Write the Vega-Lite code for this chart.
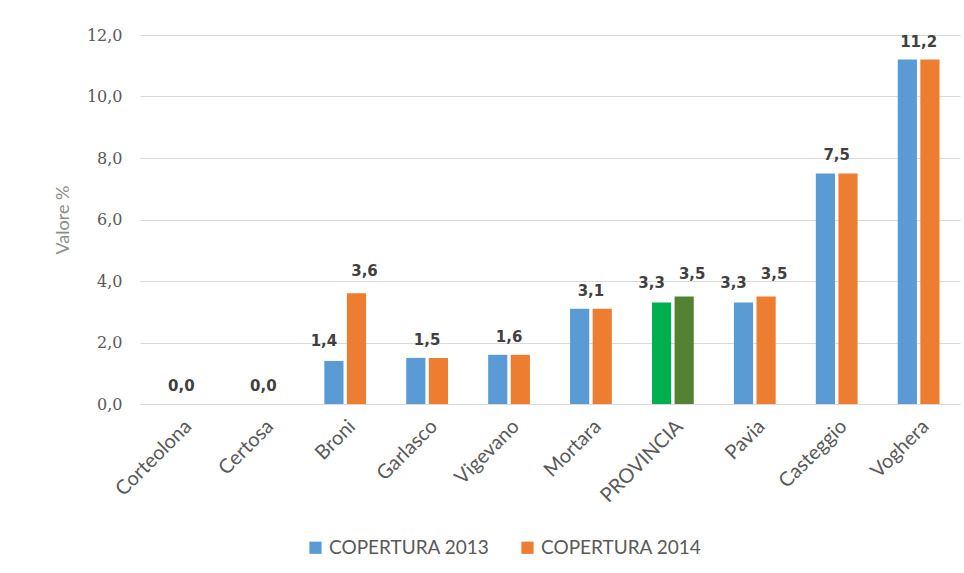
{
  "$schema": "https://vega.github.io/schema/vega-lite/v6.json",
  "width": 820,
  "height": 369,
  "autosize": "none",
  "padding": {"left": 140, "top": 35, "right": 4, "bottom": 169},
  "background": "white",
  "config": {"view": {"stroke": null}, "font": "Lato"},
  "data": {
    "values": [
      {"Comune": "Corteolona", "serie": "COPERTURA 2013", "valore": 0.0},
      {"Comune": "Corteolona", "serie": "COPERTURA 2014", "valore": 0.0},
      {"Comune": "Certosa", "serie": "COPERTURA 2013", "valore": 0.0},
      {"Comune": "Certosa", "serie": "COPERTURA 2014", "valore": 0.0},
      {"Comune": "Broni", "serie": "COPERTURA 2013", "valore": 1.4},
      {"Comune": "Broni", "serie": "COPERTURA 2014", "valore": 3.6},
      {"Comune": "Garlasco", "serie": "COPERTURA 2013", "valore": 1.5},
      {"Comune": "Garlasco", "serie": "COPERTURA 2014", "valore": 1.5},
      {"Comune": "Vigevano", "serie": "COPERTURA 2013", "valore": 1.6},
      {"Comune": "Vigevano", "serie": "COPERTURA 2014", "valore": 1.6},
      {"Comune": "Mortara", "serie": "COPERTURA 2013", "valore": 3.1},
      {"Comune": "Mortara", "serie": "COPERTURA 2014", "valore": 3.1},
      {"Comune": "PROVINCIA", "serie": "COPERTURA 2013", "valore": 3.3},
      {"Comune": "PROVINCIA", "serie": "COPERTURA 2014", "valore": 3.5},
      {"Comune": "Pavia", "serie": "COPERTURA 2013", "valore": 3.3},
      {"Comune": "Pavia", "serie": "COPERTURA 2014", "valore": 3.5},
      {"Comune": "Casteggio", "serie": "COPERTURA 2013", "valore": 7.5},
      {"Comune": "Casteggio", "serie": "COPERTURA 2014", "valore": 7.5},
      {"Comune": "Voghera", "serie": "COPERTURA 2013", "valore": 11.2},
      {"Comune": "Voghera", "serie": "COPERTURA 2014", "valore": 11.2}
    ]
  },
  "encoding": {
    "x": {
      "field": "Comune",
      "type": "nominal",
      "sort": null,
      "scale": {"paddingInner": 0.49, "paddingOuter": 0.25},
      "axis": {
        "title": null,
        "labelAngle": -45,
        "labelFontSize": 20,
        "labelColor": "#595959",
        "labelPadding": 12,
        "ticks": false,
        "domain": true,
        "domainColor": "#d9d9d9",
        "grid": false
      }
    },
    "y": {
      "field": "valore",
      "type": "quantitative",
      "scale": {"domain": [0, 12], "nice": false},
      "axis": {
        "title": "Valore %",
        "titleFont": "Lato",
        "titleFontSize": 18,
        "titleFontWeight": "normal",
        "titleColor": "#8c8c8c",
        "titlePadding": 14,
        "values": [0, 2, 4, 6, 8, 10, 12],
        "labelExpr": "replace(format(datum.value, '.1f'), '.', ',')",
        "labelFont": "DejaVu Serif",
        "labelFontSize": 16,
        "labelColor": "#595959",
        "labelPadding": 18,
        "ticks": false,
        "domain": false,
        "grid": true,
        "gridColor": "#d9d9d9"
      }
    }
  },
  "layer": [
    {
      "mark": {"type": "bar"},
      "encoding": {
        "xOffset": {"field": "serie", "type": "nominal", "scale": {"paddingInner": 0.15}},
        "color": {
          "condition": [
            {"test": "datum.Comune === 'PROVINCIA' && datum.serie === 'COPERTURA 2013'", "value": "#00B050"},
            {"test": "datum.Comune === 'PROVINCIA' && datum.serie === 'COPERTURA 2014'", "value": "#548235"}
          ],
          "field": "serie",
          "type": "nominal",
          "scale": {"domain": ["COPERTURA 2013", "COPERTURA 2014"], "range": ["#5B9BD5", "#ED7D31"]},
          "legend": {
            "title": null,
            "orient": "none",
            "legendX": 166,
            "legendY": 503,
            "direction": "horizontal",
            "symbolType": "square",
            "symbolSize": 150,
            "symbolStrokeWidth": 0,
            "labelFontSize": 19,
            "labelLimit": 400,
            "labelColor": "#595959",
            "columnPadding": 28
          }
        }
      }
    },
    {
      "transform": [
        {"joinaggregate": [{"op": "min", "field": "valore", "as": "vmin"}, {"op": "max", "field": "valore", "as": "vmax"}], "groupby": ["Comune"]},
        {"filter": "datum.vmin === datum.vmax && datum.serie === 'COPERTURA 2013'"},
        {"calculate": "replace(format(datum.valore, '.1f'), '.', ',')", "as": "etichetta"}
      ],
      "mark": {"type": "text", "baseline": "bottom", "dy": -10, "font": "DejaVu Sans", "fontSize": 15, "fontWeight": "bold", "color": "#404040"},
      "encoding": {"text": {"field": "etichetta"}}
    },
    {
      "transform": [
        {"joinaggregate": [{"op": "min", "field": "valore", "as": "vmin"}, {"op": "max", "field": "valore", "as": "vmax"}], "groupby": ["Comune"]},
        {"filter": "datum.vmin !== datum.vmax && datum.serie === 'COPERTURA 2013'"},
        {"calculate": "replace(format(datum.valore, '.1f'), '.', ',')", "as": "etichetta"}
      ],
      "mark": {"type": "text", "baseline": "bottom", "dy": -12, "dx": -10, "font": "DejaVu Sans", "fontSize": 15, "fontWeight": "bold", "color": "#404040"},
      "encoding": {
        "xOffset": {"field": "serie", "type": "nominal"},
        "text": {"field": "etichetta"}
      }
    },
    {
      "transform": [
        {"joinaggregate": [{"op": "min", "field": "valore", "as": "vmin"}, {"op": "max", "field": "valore", "as": "vmax"}], "groupby": ["Comune"]},
        {"filter": "datum.vmin !== datum.vmax && datum.serie === 'COPERTURA 2014'"},
        {"calculate": "replace(format(datum.valore, '.1f'), '.', ',')", "as": "etichetta"}
      ],
      "mark": {"type": "text", "baseline": "bottom", "dy": -14, "dx": 8, "font": "DejaVu Sans", "fontSize": 15, "fontWeight": "bold", "color": "#404040"},
      "encoding": {
        "xOffset": {"field": "serie", "type": "nominal"},
        "text": {"field": "etichetta"}
      }
    }
  ]
}
